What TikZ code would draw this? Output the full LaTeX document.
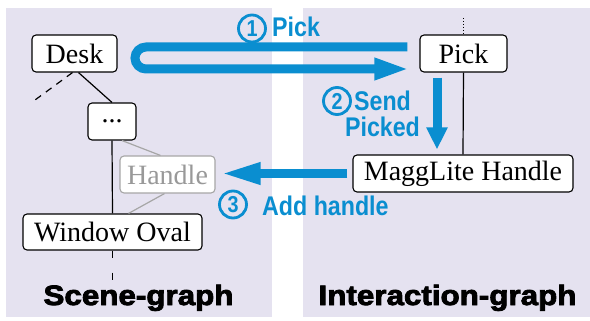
\documentclass[tikz,border=0pt]{standalone}
\usepackage{fontspec}
\setmainfont{Liberation Serif}
\newfontfamily\etiqfont{Liberation Sans}[FakeStretch=0.86]
\newfontfamily\titfont{Liberation Sans}[FakeStretch=1.12,FakeBold=3]
\usetikzlibrary{arrows.meta}
\definecolor{lavanda}{HTML}{E5E2F0}
\definecolor{azul}{HTML}{0A8ED0}

\tikzset{
  nodo/.style={draw, fill=white, rounded corners=4pt, line width=1.1pt, inner sep=0pt,
    minimum height=37pt, font=\fontsize{28}{30}\selectfont},
  paso/.style={circle, draw=azul, line width=2.8pt, minimum size=27pt, inner sep=0pt,
    text=azul, font=\etiqfont\bfseries\fontsize{23}{23}\selectfont},
  etiq/.style={text=azul, inner sep=0pt, font=\etiqfont\bfseries\fontsize{27}{27}\selectfont},
  flecha/.style={draw=azul, line width=9pt, -{Triangle[length=#1, width=20pt]}},
  titulo/.style={anchor=base, inner sep=0pt, font=\titfont\bfseries\fontsize{28}{30}\selectfont},
  rama/.style={line width=1.2pt}
}

\begin{document}
\begin{tikzpicture}[x=1pt, y=-1pt]

  \useasboundingbox (0,0) rectangle (590,321);

  % Fondos de los dos grafos
  \fill[lavanda] (6,8) rectangle (272,317);
  \fill[lavanda] (303,8) rectangle (590,317);

  % Grafo de escena
  \node[nodo, minimum width=85pt] (desk) at (74.5,53.5) {Desk};
  \node[nodo, minimum width=48pt] (dots) at (112,121.5) {...};
  \node[nodo, minimum width=95pt, draw=gray!70, text=gray!80] (handle) at (167.5,174.5) {Handle};
  \node[nodo, minimum width=179pt, minimum height=36pt] (window) at (112.5,232) {Window Oval};
  \coordinate (deskpadre) at (35,100);
  \coordinate (windowhijo) at (112.5,282);

  \draw[rama, dash pattern=on 7pt off 6pt] ([xshift=-2pt]desk.south) -- (deskpadre);
  \draw[rama] ([xshift=4pt]desk.south) -- (dots.north);
  \draw[rama] (dots.south) -- (window.north);
  \draw[rama, gray!70] ([xshift=10pt]dots.south) -- ([xshift=-7pt]handle.north);
  \draw[rama, gray!70] ([xshift=-3pt]handle.south) -- ([xshift=16pt]window.north);
  \draw[rama, dash pattern=on 7pt off 15pt] (window.south) -- (windowhijo);

  % Grafo de interaccion
  \node[nodo, minimum width=87pt] (pick) at (463.5,53.5) {Pick};
  \node[nodo, minimum width=220pt] (magg) at (463,173.5) {MaggLite Handle};
  \coordinate (pickpadre) at (463.5,18);

  \draw[line width=1pt, dotted] (pickpadre) -- (pick.north);
  \draw[rama] (pick.south) -- (magg.north);

  % Flechas de los pasos
  \draw[flecha=35pt, rounded corners=11pt]
    ([xshift=-12pt, yshift=6.5pt]pick.west) -- (135,47) -- (135,69)
    -- ([xshift=-10pt, yshift=-15.5pt]pick.west);
  \draw[flecha=22pt] ([xshift=-26.5pt, yshift=-5pt]pick.south)
    -- ([xshift=-26pt, yshift=5pt]magg.north);
  \draw[flecha=40pt] ([xshift=-5pt]magg.west) -- ([xshift=5pt]magg.west -| handle.east);

  % Etiquetas de los pasos
  \node[paso] (paso1) at (252,28.5) {1};
  \node[etiq, anchor=base west] (pasopick) at (272,37) {Pick};
  \node[paso] (paso2) at (337,101) {2};
  \node[etiq, anchor=base, align=center] (pasosend) at (382.5,137) {Send\\Picked};
  \node[paso] (paso3) at (233,204.5) {3};
  \node[etiq, anchor=base west] (pasoadd) at (262,215) {Add handle};

  % Titulos
  \node[titulo] (tescena) at (138.5,305) {Scene-graph};
  \node[titulo] (tinter) at (447.5,305) {Interaction-graph};

\end{tikzpicture}
\end{document}
